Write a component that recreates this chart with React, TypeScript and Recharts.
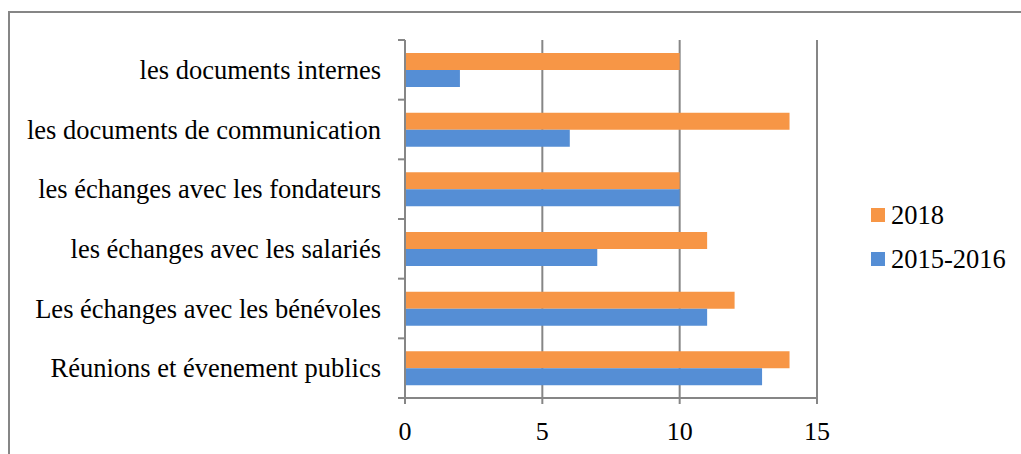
import React from 'react';
import { BarChart, Bar, XAxis, YAxis, CartesianGrid, Legend } from 'recharts';

const categories = [
  'les documents internes',
  'les documents de communication',
  'les échanges avec les fondateurs',
  'les échanges avec les salariés',
  'Les échanges avec les bénévoles',
  'Réunions et évenement publics',
];
const values2018 = [10, 14, 10, 11, 12, 14];
const values2015 = [2, 6, 10, 7, 11, 13];
const xTicks = [0, 5, 10, 15];

const seriesNames = ['2018', '2015-2016'];
const colors = ['#F79646', '#558ED5'];

const data = categories.map((name, i) => ({
  name,
  s2018: values2018[i],
  s2015: values2015[i],
}));

const FONT = '"Liberation Serif", "Times New Roman", serif';
const GRAY = '#868686';
const BAND = (398 - 40) / categories.length;

const CategoryTick = (props: any) => {
  const { x, y, payload, index } = props;
  const ax = x + 24;
  return (
    <g>
      <line x1={ax - 7} x2={ax} y1={y - BAND / 2} y2={y - BAND / 2} stroke={GRAY} strokeWidth={2} />
      {index === categories.length - 1 && (
        <line x1={ax - 7} x2={ax} y1={y + BAND / 2} y2={y + BAND / 2} stroke={GRAY} strokeWidth={2} />
      )}
      <text x={x} y={y} dy="0.35em" textAnchor="end" fill="#000" fontSize={26.5} fontFamily={FONT}>
        {payload.value}
      </text>
    </g>
  );
};

const LegendBox = () => (
  <div style={{ fontFamily: FONT, fontSize: 26.5, color: '#000', lineHeight: 1 }}>
    {seriesNames.map((s, i) => (
      <div key={s} style={{ display: 'flex', alignItems: 'center', height: 44 }}>
        <span style={{ width: 14, height: 14, background: colors[i], marginRight: 6 }} />
        <span>{s}</span>
      </div>
    ))}
  </div>
);

const App: React.FC = () => {
  return (
    <div style={{ position: 'absolute', left: 0, top: 0, width: 1021, height: 454, background: '#fff', overflow: 'hidden' }}>
      <div
        style={{
          position: 'absolute',
          left: 8,
          top: 11,
          width: 1100,
          height: 500,
          borderLeft: `2px solid ${GRAY}`,
          borderTop: `2px solid ${GRAY}`,
        }}
      />
      <div style={{ position: 'absolute', left: 0, top: 0 }}>
        <BarChart
          width={1021}
          height={454}
          data={data}
          layout="vertical"
          margin={{ top: 40, right: 204, bottom: 0, left: 0 }}
          barSize={17}
          barGap={0}
        >
          <CartesianGrid horizontal={false} stroke={GRAY} strokeWidth={2} />
          <XAxis
            type="number"
            domain={[0, 15]}
            ticks={xTicks}
            height={56}
            axisLine={{ stroke: GRAY, strokeWidth: 2 }}
            tickLine={{ stroke: GRAY, strokeWidth: 2 }}
            tickSize={6}
            tickMargin={18}
            tick={{ fill: '#000', fontSize: 26, fontFamily: FONT }}
          />
          <YAxis
            type="category"
            dataKey="name"
            width={405}
            axisLine={{ stroke: GRAY, strokeWidth: 2 }}
            tickLine={false}
            tickSize={7}
            tickMargin={17}
            interval={0}
            tick={<CategoryTick />}
          />
          <Legend
            layout="horizontal"
            verticalAlign="middle"
            content={<LegendBox />}
            wrapperStyle={{ left: 871, top: 193, width: 150 }}
          />
          <Bar dataKey="s2018" name={seriesNames[0]} fill={colors[0]} isAnimationActive={false} />
          <Bar dataKey="s2015" name={seriesNames[1]} fill={colors[1]} isAnimationActive={false} />
        </BarChart>
      </div>
    </div>
  );
};

export default App;
